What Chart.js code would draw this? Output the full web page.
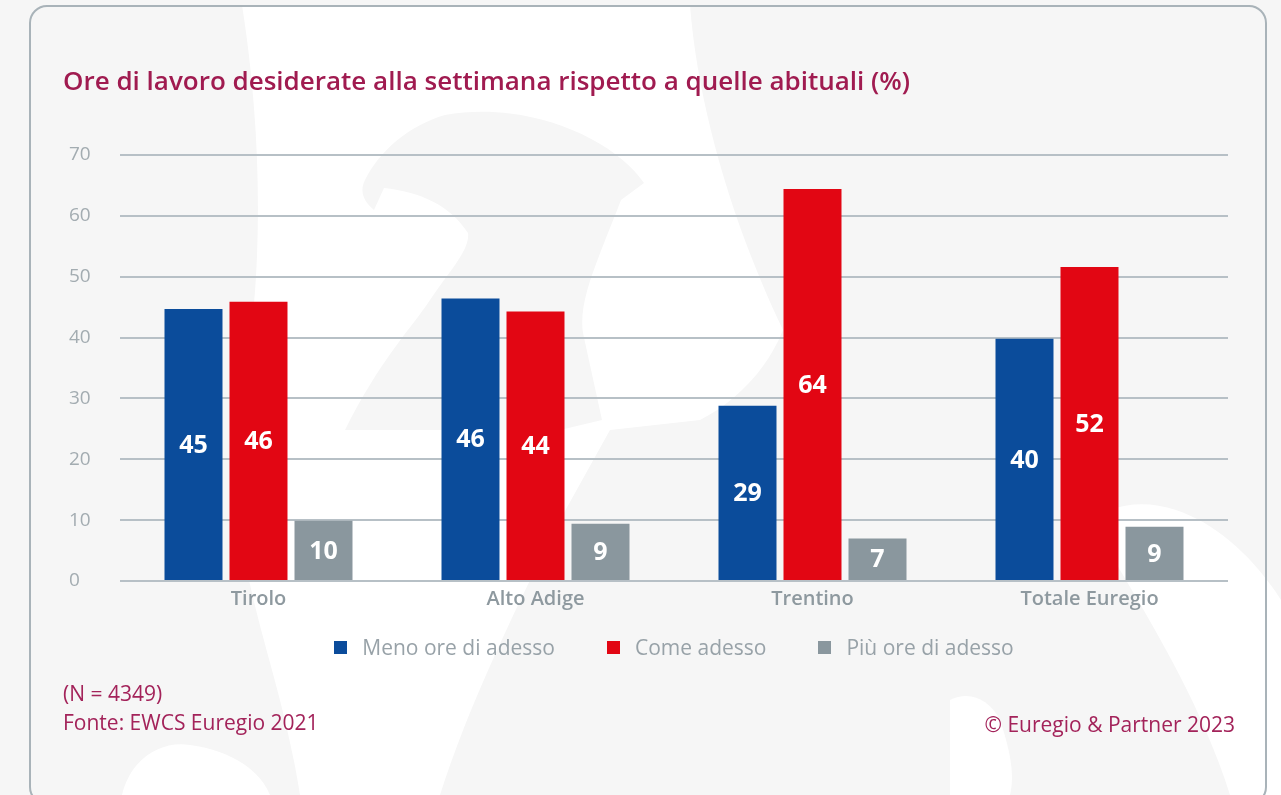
<!DOCTYPE html>
<html>
<head>
<meta charset="utf-8">
<script src="https://cdn.jsdelivr.net/npm/chart.js@4.4.1/dist/chart.umd.min.js"></script>
<style>
  html, body { margin: 0; padding: 0; background: #f6f6f6; width: 1281px; height: 795px; overflow: hidden; font-family: "Open Sans", "Noto Sans", sans-serif; }
  #deco { position: absolute; left: 0; top: 0; }
  #card { position: absolute; left: 29px; top: 5px; width: 1238px; height: 800px; border: 2px solid #a9b3b9; border-radius: 18px; box-sizing: border-box; }
  #wrap { position: absolute; left: 0; top: 0; width: 1281px; height: 795px; }
  #title { position: absolute; left: 63px; top: 62px; font-size: 26px; font-weight: 600; color: #a01b50; white-space: nowrap; line-height: 36px; }
  #legend { position: absolute; left: 120px; width: 1108px; top: 632px; height: 30px; display: flex; justify-content: center; align-items: center; }
  .li { display: flex; align-items: center; margin: 0 26px; font-size: 21px; color: #98a2a8; white-space: nowrap; }
  .sw { width: 13px; height: 13px; margin-right: 15px; }
  .foot { position: absolute; font-size: 21px; line-height: 28px; color: #a3235a; white-space: nowrap; }
</style>
</head>
<body>
<svg id="deco" width="1281" height="795">
  <path d="M242,5 L690,5 C698,110 735,230 783,330 C765,375 730,405 700,420 L610,430 L560,520 C520,600 470,700 440,795 L300,795 C285,700 260,640 245,560 C238,500 236,440 240,400 C262,300 265,150 242,5 Z" fill="#ffffff"/>
  <path d="M445,115 C530,100 615,140 644,183 L621,200 C598,260 578,300 583,333 L602,420 L560,430 L345,430 C380,360 410,330 430,300 C450,270 470,250 468,233 C450,205 420,192 384,188 L374,210 C362,200 360,190 365,180 C380,150 410,125 445,115 Z" fill="#f6f6f6"/>
  <path d="M1090,520 C1150,480 1230,520 1281,600 L1281,795 L1230,795 C1200,700 1150,620 1090,520 Z" fill="#ffffff"/>
  <path d="M122,795 C130,760 160,740 190,745 C230,750 260,770 270,795 Z" fill="#ffffff"/>
  <path d="M950,700 C970,690 990,700 1000,720 C1010,750 1015,775 1010,795 L950,795 Z" fill="#ffffff"/>
</svg>
<div id="card"></div>
<div id="wrap"><canvas id="c" width="1281" height="795"></canvas></div>
<div id="title">Ore di lavoro desiderate alla settimana rispetto a quelle abituali (%)</div>
<div id="legend"></div>
<div class="foot" id="f1" style="left:63px; top:679px;">(N = 4349)</div>
<div class="foot" id="f2" style="left:63px; top:708px;">Fonte: EWCS Euregio 2021</div>
<div class="foot" id="f3" style="right:46px; top:710px;">© Euregio &amp; Partner 2023</div>
<script>
const categories = ["Tirolo", "Alto Adige", "Trentino", "Totale Euregio"];
const seriesNames = ["Meno ore di adesso", "Come adesso", "Più ore di adesso"];
const menoOre = [44.7, 46.4, 28.8, 39.8];
const comeAdesso = [45.9, 44.3, 64.4, 51.6];
const piuOre = [9.9, 9.4, 7.0, 8.9];
const seriesColors = ["#0b4c9b", "#e20613", "#8a979e"];
const yTicks = [0, 10, 20, 30, 40, 50, 60, 70];

const legendEl = document.getElementById('legend');
seriesNames.forEach((n, i) => {
  const d = document.createElement('div'); d.className = 'li';
  const s = document.createElement('span'); s.className = 'sw'; s.style.background = seriesColors[i];
  d.appendChild(s); d.appendChild(document.createTextNode(n)); legendEl.appendChild(d);
});

const barLabels = {
  id: 'barLabels',
  afterDatasetsDraw(chart) {
    const ctx = chart.ctx;
    ctx.save();
    ctx.fillStyle = '#ffffff';
    ctx.font = '700 25px "Open Sans", sans-serif';
    ctx.textAlign = 'center';
    ctx.textBaseline = 'middle';
    chart.data.datasets.forEach((ds, di) => {
      chart.getDatasetMeta(di).data.forEach((bar, i) => {
        const p = bar.getProps(['x', 'y', 'base'], true);
        ctx.fillText(String(Math.round(ds.data[i])), p.x, (p.y + p.base) / 2 + 1);
      });
    });
    ctx.restore();
  }
};

new Chart(document.getElementById('c'), {
  type: 'bar',
  data: {
    labels: categories,
    datasets: [
      { label: seriesNames[0], data: menoOre, backgroundColor: seriesColors[0] },
      { label: seriesNames[1], data: comeAdesso, backgroundColor: seriesColors[1] },
      { label: seriesNames[2], data: piuOre, backgroundColor: seriesColors[2] }
    ]
  },
  options: {
    responsive: false,
    animation: false,
    events: [],
    datasets: { bar: { categoryPercentage: 0.704, barPercentage: 0.892 } },
    layout: { padding: { left: 69, right: 53, top: 155, bottom: 174 } },
    plugins: { legend: { display: false }, tooltip: { enabled: false }, title: { display: false } },
    scales: {
      x: {
        grid: { display: false },
        border: { display: false },
        ticks: { color: '#8e999f', font: { family: '"Open Sans", sans-serif', size: 20, weight: '600' }, padding: -2 },
        afterFit(s) { s.height = 40; }
      },
      y: {
        min: 0, max: 70,
        afterBuildTicks(s) { s.ticks = yTicks.map(v => ({ value: v })); },
        grid: { color: '#b7c0c6', lineWidth: 2, drawTicks: false },
        border: { display: false },
        ticks: { color: '#a3acb1', font: { family: '"Open Sans", sans-serif', size: 19 }, crossAlign: 'far', padding: 0 },
        afterFit(s) { s.width = 51; }
      }
    }
  },
  plugins: [barLabels]
});
</script>
</body>
</html>
